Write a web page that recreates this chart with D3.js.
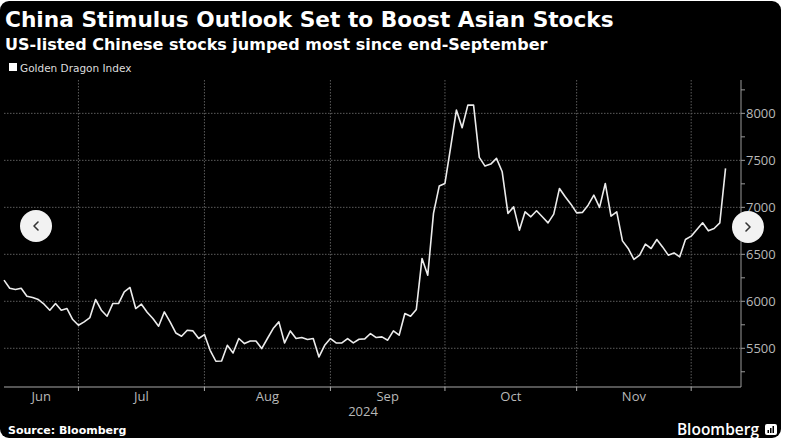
<!DOCTYPE html>
<html>
<head>
<meta charset="utf-8">
<script src="https://cdn.jsdelivr.net/npm/d3@7"></script>
<style>
  html, body { margin: 0; padding: 0; background: #fff; }
  svg { display: block; }
</style>
</head>
<body>
<div id="chart"></div>
<script>
// Golden Dragon Index, daily closes, one array per month (trading days)
const jun = [6225, 6139, 6126, 6139, 6054, 6040, 6019, 5969, 5905, 5976, 5905, 5923, 5806];
const jul = [5745, 5781, 5827, 6019, 5905, 5841, 5976, 5976, 6100, 6147, 5923, 5969, 5884,
             5817, 5735, 5887, 5781, 5663, 5628, 5692, 5685, 5604];
const aug = [5646, 5479, 5362, 5365, 5532, 5450, 5604, 5550, 5578, 5578, 5497, 5604, 5710,
             5781, 5557, 5685, 5604, 5614, 5593, 5604, 5408, 5532];
const sep = [5604, 5557, 5557, 5604, 5557, 5596, 5600, 5657, 5614, 5621, 5586, 5685, 5639,
             5870, 5841, 5913, 6456, 6278, 6935, 7226];
const oct = [7254, 7641, 8035, 7847, 8088, 8088, 7531, 7439, 7460, 7521, 7378, 6935, 7005,
             6757, 6952, 6899, 6963, 6899, 6835, 6928, 7201, 7112, 7034];
const nov = [6941, 6946, 7023, 7130, 6999, 7254, 6906, 6952, 6643, 6562, 6445, 6491, 6608,
             6562, 6658, 6579, 6491, 6515, 6473, 6658];
const dec = [6693, 6765, 6835, 6750, 6775, 6835, 7414];

const monthLabels = ['Jun', 'Jul', 'Aug', 'Sep', 'Oct', 'Nov', 'Dec'];
const months = [jun, jul, aug, sep, oct, nov, dec];
const yTicks = [5500, 6000, 6500, 7000, 7500, 8000];
const yMinorTicks = [5250, 5750, 6250, 6750, 7250, 7750, 8250];
const yearLabel = '2024';

const title = 'China Stimulus Outlook Set to Boost Asian Stocks';
const subtitle = 'US-listed Chinese stocks jumped most since end-September';
const seriesName = 'Golden Dragon Index';
const source = 'Source: Bloomberg';

const W = 789, H = 440;
const plot = { left: 4, right: 741, top: 80, bottom: 387 };

// flatten months into one index-based series
const series = [];
const monthStarts = [];
months.forEach((m, mi) => {
  monthStarts.push({ label: monthLabels[mi], start: series.length, end: series.length + m.length });
  m.forEach(v => series.push({ i: series.length, v }));
});
const lastIdx = series.length - 1;

const x = d3.scaleLinear().domain([0, lastIdx + 2.7]).range([plot.left, plot.right]);
const y = d3.scaleLinear().domain([5088, 8355]).range([plot.bottom, plot.top]);

const svg = d3.select('#chart').append('svg')
  .attr('width', W).attr('height', H)
  .style('font-family', "'Open Sans', sans-serif");

svg.append('rect')
  .attr('x', 0).attr('y', 1).attr('width', 781).attr('height', 437)
  .attr('rx', 9).attr('fill', '#000');

// titles
svg.append('text').attr('x', 5).attr('y', 27)
  .attr('fill', '#fff').style('font-family', "'DejaVu Sans', sans-serif")
  .style('font-weight', 700).style('font-size', '21.7px')
  .text(title);
svg.append('text').attr('x', 5).attr('y', 50)
  .attr('fill', '#fff').style('font-family', "'DejaVu Sans', sans-serif")
  .style('font-weight', 700).style('font-size', '16px')
  .text(subtitle);

// legend
svg.append('rect').attr('x', 9).attr('y', 63).attr('width', 8).attr('height', 8).attr('fill', '#fff');
svg.append('text').attr('x', 20).attr('y', 72)
  .attr('fill', '#ddd').style('font-family', "'DejaVu Sans', sans-serif")
  .style('font-size', '10.5px').text(seriesName);

// horizontal grid
svg.append('g').selectAll('line').data(yTicks).join('line')
  .attr('x1', plot.left).attr('x2', plot.right)
  .attr('y1', d => y(d)).attr('y2', d => y(d))
  .attr('stroke', '#5c5c5c').attr('stroke-dasharray', '1.5,1.5');

// vertical grid at month boundaries
const bounds = monthStarts.slice(1);
svg.append('g').selectAll('line').data(bounds).join('line')
  .attr('x1', d => x(d.start)).attr('x2', d => x(d.start))
  .attr('y1', plot.top).attr('y2', plot.bottom)
  .attr('stroke', '#5c5c5c').attr('stroke-dasharray', '1.5,1.5');

// y axis on the right
const yAxis = svg.append('g').attr('transform', `translate(${plot.right},0)`);
yAxis.append('line').attr('y1', plot.top).attr('y2', plot.bottom).attr('stroke', '#9a9a9a');
yAxis.selectAll('.minor').data(yMinorTicks).join('line').attr('class', 'minor')
  .attr('x1', 0).attr('x2', 4).attr('y1', d => y(d)).attr('y2', d => y(d)).attr('stroke', '#9a9a9a');
yAxis.selectAll('.major').data(yTicks).join('line').attr('class', 'major')
  .attr('x1', 0).attr('x2', 4).attr('y1', d => y(d)).attr('y2', d => y(d)).attr('stroke', '#9a9a9a');
yAxis.selectAll('text').data(yTicks).join('text')
  .attr('x', 5).attr('y', d => y(d)).attr('dy', '0.36em')
  .attr('fill', '#b8b8b8').style('font-size', '13px')
  .text(d => d);

// x axis
const xAxis = svg.append('g');
xAxis.append('line').attr('x1', plot.left).attr('x2', plot.right)
  .attr('y1', plot.bottom).attr('y2', plot.bottom).attr('stroke', '#a8a8a8');
xAxis.selectAll('.tick').data(bounds).join('line').attr('class', 'tick')
  .attr('x1', d => x(d.start)).attr('x2', d => x(d.start))
  .attr('y1', plot.bottom).attr('y2', plot.bottom + 4).attr('stroke', '#a8a8a8');
xAxis.selectAll('text').data(monthStarts.filter(d => d.label !== 'Dec')).join('text')
  .attr('x', d => (x(Math.max(d.start, 0)) + x(d.end)) / 2)
  .attr('y', 401).attr('text-anchor', 'middle')
  .attr('fill', '#b8b8b8').style('font-size', '13px')
  .text(d => d.label);
svg.append('text').attr('x', 363).attr('y', 416).attr('text-anchor', 'middle')
  .attr('fill', '#b8b8b8').style('font-size', '13px').text(yearLabel);

// the line
const line = d3.line().x(d => x(d.i)).y(d => y(d.v));
svg.append('path').datum(series)
  .attr('d', line).attr('fill', 'none')
  .attr('stroke', '#ececec').attr('stroke-width', 1.6)
  .attr('stroke-linejoin', 'round');

// footer
svg.append('text').attr('x', 8).attr('y', 434)
  .attr('fill', '#fff').style('font-family', "'DejaVu Sans', sans-serif")
  .style('font-weight', 700).style('font-size', '11px').text(source);
svg.append('text').attr('x', 759).attr('y', 435).attr('text-anchor', 'end')
  .attr('fill', '#fff').style('font-weight', 600).style('font-size', '15.5px').text('Bloomberg');
const logo = svg.append('g').attr('transform', 'translate(765,424)');
logo.append('rect').attr('width', 12).attr('height', 11).attr('rx', 2).attr('fill', '#fff');
logo.selectAll('.bar').data([3, 5, 7]).join('rect').attr('class', 'bar')
  .attr('x', (d, i) => 2.5 + i * 2.5).attr('y', d => 9 - d).attr('width', 1.5).attr('height', d => d)
  .attr('fill', '#000');

// carousel buttons
function navButton(cx, cy, dir) {
  const g = svg.append('g').attr('transform', `translate(${cx},${cy})`);
  g.append('circle').attr('r', 16).attr('fill', '#f2f2f2');
  g.append('path').attr('d', dir < 0 ? 'M2,-4 L-2,0 L2,4' : 'M-2,-4 L2,0 L-2,4')
    .attr('fill', 'none').attr('stroke', '#333').attr('stroke-width', 1.6)
    .attr('stroke-linecap', 'round').attr('stroke-linejoin', 'round');
}
navButton(36, 226, -1);
navButton(748, 227, 1);
</script>
</body>
</html>
